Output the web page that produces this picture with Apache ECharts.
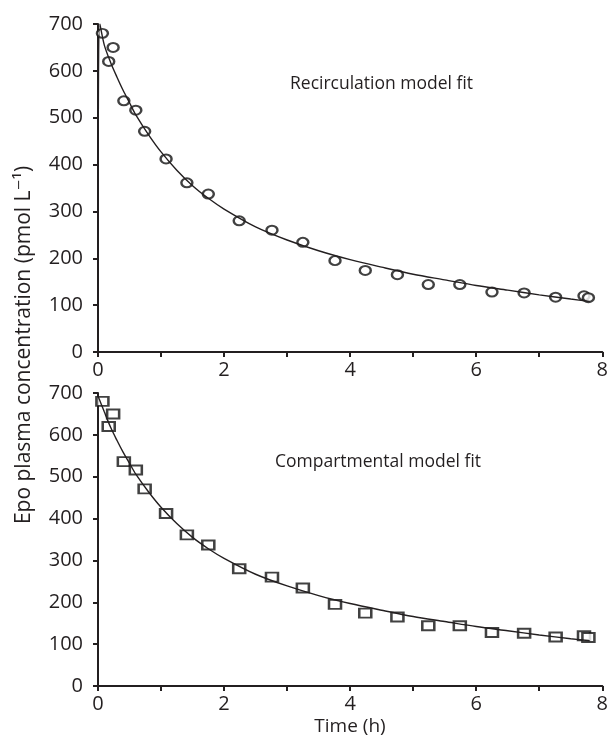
<!DOCTYPE html>
<html>
<head>
<meta charset="utf-8">
<script src="https://cdn.jsdelivr.net/npm/echarts@6/dist/echarts.min.js"></script>
<style>
  html, body { margin: 0; padding: 0; background: #fff; }
  #chart { width: 611px; height: 745px; }
</style>
</head>
<body>
<div id="chart"></div>
<script>
// measured Epo concentrations (same data in both panels)
const obsTime = [0.07, 0.17, 0.24, 0.41, 0.6, 0.74, 1.08, 1.41, 1.75, 2.24, 2.76, 3.25, 3.76, 4.24, 4.75, 5.24, 5.74, 6.25, 6.76, 7.26, 7.71, 7.78];
const obsConc = [680, 620, 650, 536, 516, 471, 412, 361, 337, 280, 260, 234, 195, 174, 165, 144, 144, 128, 126, 117, 120, 116];

// fitted curves
const fitTime = [0.1, 0.2, 0.3, 0.4, 0.5, 0.6, 0.8, 1.0, 1.25, 1.5, 1.75, 2, 2.5, 3, 3.5, 4, 4.5, 5, 5.5, 6, 6.5, 7, 7.5, 7.8];
const fitConc = [655, 618, 587, 558, 532, 506, 464, 427, 388, 355, 328, 305, 267, 239, 216, 197, 181, 166, 154, 142, 132, 122, 113, 108];
// recirculation model starts at zero and spikes up
const recircStartTime = [0, 0.03];
const recircStartConc = [0, 700];
const compStartTime = [0];
const compStartConc = [693];

const xTicks = [0, 2, 4, 6, 8];

const TEXT = '#231f20';
const FONT = '"Open Sans", "DejaVu Sans", sans-serif';

function pairs(xs, ys) {
  return xs.map((x, i) => [x, ys[i]]);
}

const recircLine = pairs(recircStartTime.concat(fitTime), recircStartConc.concat(fitConc));
const compLine = pairs(compStartTime.concat(fitTime), compStartConc.concat(fitConc));
const obs = pairs(obsTime, obsConc);

function xAxis(gridIndex) {
  return {
    type: 'value', gridIndex, min: 0, max: 8, interval: 1,
    axisLine: { onZero: false, lineStyle: { color: TEXT, width: 2 } },
    axisTick: { show: true, length: 5, lineStyle: { color: TEXT, width: 2 } },
    axisLabel: {
      color: TEXT, fontSize: 20, fontFamily: FONT, margin: 8,
      formatter: v => xTicks.includes(v) ? String(v) : ''
    },
    splitLine: { show: false }
  };
}

function yAxis(gridIndex) {
  return {
    type: 'value', gridIndex, min: 0, max: 700, interval: 100,
    axisLine: { show: true, lineStyle: { color: TEXT, width: 2 } },
    axisTick: { show: true, length: 5, lineStyle: { color: TEXT, width: 2 } },
    axisLabel: { color: TEXT, fontSize: 20, fontFamily: FONT, margin: 15 },
    splitLine: { show: false }
  };
}

const chart = echarts.init(document.getElementById('chart'));

chart.setOption({
  backgroundColor: '#fff',
  animation: false,
  grid: [
    { left: 98, right: 7, top: 24, height: 328 },
    { left: 98, right: 7, top: 393, bottom: 59 }
  ],
  xAxis: [xAxis(0), xAxis(1)],
  yAxis: [yAxis(0), yAxis(1)],
  graphic: [
    {
      type: 'text', left: 290, top: 75,
      style: { text: 'Recirculation model fit', fill: TEXT, font: '17.5px ' + FONT }
    },
    {
      type: 'text', left: 275, top: 453,
      style: { text: 'Compartmental model fit', fill: TEXT, font: '17.5px ' + FONT }
    },
    {
      type: 'text', x: 24, y: 345, rotation: Math.PI / 2,
      style: {
        text: 'Epo plasma concentration (pmol L\u207B\u00B9)', fill: TEXT,
        font: '21px ' + FONT, align: 'center', verticalAlign: 'middle'
      }
    },
    {
      type: 'text', x: 350, y: 727,
      style: { text: 'Time (h)', fill: TEXT, font: '19px ' + FONT, align: 'center', verticalAlign: 'middle' }
    }
  ],
  series: [
    {
      type: 'line', xAxisIndex: 0, yAxisIndex: 0, data: recircLine,
      smooth: 0.3, showSymbol: false,
      lineStyle: { color: TEXT, width: 1.4 }
    },
    {
      type: 'scatter', xAxisIndex: 0, yAxisIndex: 0, data: obs,
      symbol: 'circle', symbolSize: [11, 9],
      itemStyle: { color: '#fff', borderColor: '#111', borderWidth: 2.2 }
    },
    {
      type: 'line', xAxisIndex: 1, yAxisIndex: 1, data: compLine,
      smooth: 0.3, showSymbol: false,
      lineStyle: { color: TEXT, width: 1.4 }
    },
    {
      type: 'scatter', xAxisIndex: 1, yAxisIndex: 1, data: obs,
      symbol: 'rect', symbolSize: [12, 9],
      itemStyle: { color: '#fff', borderColor: '#111', borderWidth: 2.2 }
    }
  ]
});
</script>
</body>
</html>
